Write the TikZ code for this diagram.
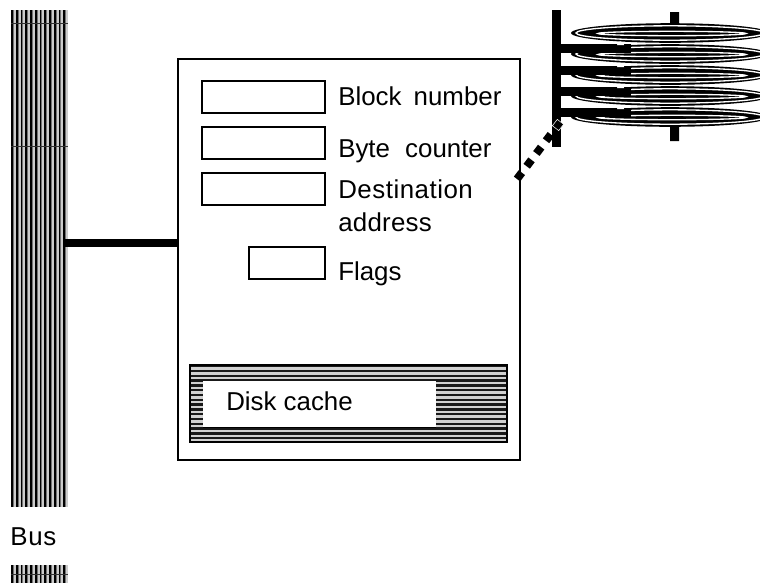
\documentclass[tikz,border=0pt]{standalone}
\usepackage{fontspec}
\setmainfont{Liberation Sans}
\begin{document}
\begin{tikzpicture}[x=0.75pt,y=-0.75pt,
  reg/.style={draw=black,line width=1.5pt,fill=white,outer sep=0pt,inner sep=0pt,anchor=north west,minimum height=32*0.75pt},
  lbl/.style={anchor=base west,inner sep=0pt,font=\fontsize{19.4}{21}\selectfont,text=black},
  arm/.style={fill=black}]
\useasboundingbox (0,0) rectangle (760,583);
% bus
\newcommand{\busstripes}[2]{%
  \foreach \i in {0,...,11}{
    \fill[black!20] ({11+\i*4.75},#1) rectangle ({15.75+\i*4.75},#2);
    \fill[black] ({11+\i*4.75},#1) rectangle ({12.8+\i*4.75},#2);
    \fill[black!55] ({12.8+\i*4.75},#1) rectangle ({13.9+\i*4.75},#2);
  }}
\busstripes{10}{507}
\busstripes{565}{583}
\draw[black!80,line width=0.4pt] (11,23.5) -- (68,23.5) (11,146) -- (68,146) (11,574) -- (68,574);
\node[lbl] (bus) at (10,545) {\addfontfeature{LetterSpace=3}Bus};
% controller
\node[draw=black,line width=1.5pt,fill=white,minimum width=342*0.75pt,minimum height=401*0.75pt,inner sep=0pt,outer sep=0pt,anchor=north west] (ctrl) at (178,59) {};
\coordinate (busport) at (65,243);
\draw[line width=5.4pt] (busport) -- (ctrl.west |- busport);
% registers
\node[reg,minimum width=123*0.75pt] (r1) at (202,81) {};
\node[reg,minimum width=123*0.75pt] (r2) at (202,127) {};
\node[reg,minimum width=123*0.75pt] (r3) at (202,173) {};
\node[reg,minimum width=76*0.75pt] (r4) at (249,247) {};
\node[lbl] (t1) at (338,105.5) {Block\hspace{3.75pt} number};
\node[lbl] (t2) at (338,157.5) {Byte\hspace{6pt} counter};
\node[lbl] (t3) at (338,198.5) {\addfontfeature{LetterSpace=2}Destination};
\node[lbl] (t3b) at (338,231.5) {\addfontfeature{LetterSpace=1}address};
\node[lbl] (t4) at (338,280) {Flags};
% cache
\fill[black!18] (190,365) rectangle (507,442);
\foreach \y in {365,369.8,...,440}{\fill[black!90] (190,\y) rectangle (507,{\y+2.4});}
\draw[black,line width=1.9pt] (190,365) rectangle (507,442);
\node[fill=white,inner sep=0pt,outer sep=0pt,anchor=north west,minimum width=233*0.75pt,minimum height=46*0.75pt] (cachebox) at (203,381) {};
\draw[black,line width=0.9pt] (203,427.5) -- (436,427.5);
\node[lbl] (cachelbl) at (226,410.5) {Disk cache};
% disks
\begin{scope}
\clip (560,0) rectangle (760,583);
\fill[black] (670,12) rectangle (679,42) (670,127) rectangle (679,141);
\foreach \y in {33,54,75,96,117}{
  \fill[black] (670,\y) ellipse (99 and 9.8);
  \draw[white,line width=1pt] (670,\y) ellipse (94 and 7.2);
  \draw[white,line width=1pt] (672,{\y+0.5}) ellipse (74 and 2.2);
}
\end{scope}
% arms
\fill[black] (552,10) rectangle (561,147);
\foreach \y in {48,70,91,112}{
  \fill[arm] (561,{\y-4.5}) rectangle (631,{\y+4.5});
  \fill[white] (617,{\y-3}) arc[start angle=180,end angle=360,radius=3.6] -- cycle;
}
\coordinate (diskport) at (558,125);
\coordinate (ctrlport) at (517,179);
\draw[black,line width=6pt,dash pattern=on 6pt off 6pt] (ctrlport) -- (diskport);
\node[draw=white,line width=0.4pt,fill=black,rotate=52,minimum size=6pt,inner sep=0pt,outer sep=0pt] (lastdot) at (diskport) {};
\end{tikzpicture}
\end{document}
